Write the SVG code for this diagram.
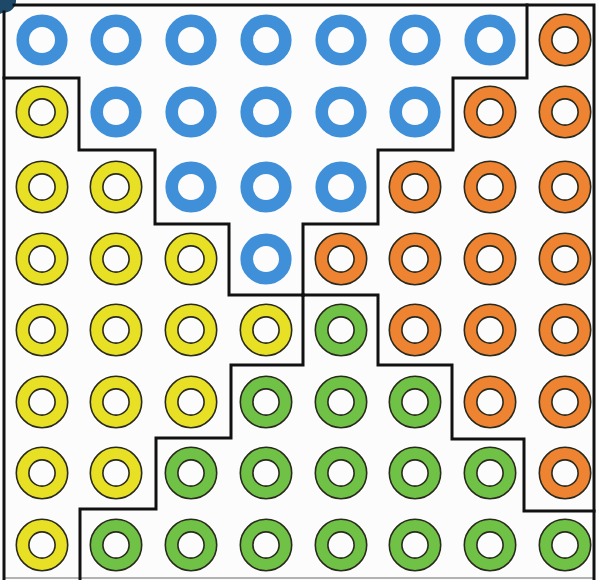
<svg xmlns="http://www.w3.org/2000/svg" xmlns:xlink="http://www.w3.org/1999/xlink" width="599" height="580" viewBox="0 0 599 580">
<style>
.o{fill:none;stroke:#2a2a1e;stroke-width:1.6}
.ln{fill:none;stroke:#111;stroke-width:3;stroke-linejoin:miter;stroke-linecap:square}
</style>
<defs>
<g id="rB"><circle r="19.3" fill="none" stroke="#3f90d8" stroke-width="12.6"/></g>
<g id="rY"><circle r="19.4" fill="none" stroke="#e8e024" stroke-width="12.6"/><circle r="25.7" class="o"/><circle r="13.1" class="o"/></g>
<g id="rO"><circle r="19.4" fill="none" stroke="#ee8332" stroke-width="12.6"/><circle r="25.7" class="o"/><circle r="13.1" class="o"/></g>
<g id="rG"><circle r="19.4" fill="none" stroke="#70c247" stroke-width="12.6"/><circle r="25.7" class="o"/><circle r="13.1" class="o"/></g>
</defs>
<rect width="599" height="580" fill="#fcfcfc"/>
<path d="M0,0 H16 A14,12 0 0 1 2,13 L0,14 Z" fill="#1e4868"/>
<g id="blue">
<use xlink:href="#rB" x="42" y="40"/><use xlink:href="#rB" x="116" y="40"/><use xlink:href="#rB" x="191" y="40"/><use xlink:href="#rB" x="266" y="40"/><use xlink:href="#rB" x="341" y="40"/><use xlink:href="#rB" x="415" y="40"/><use xlink:href="#rB" x="490" y="40"/>
<use xlink:href="#rB" x="116" y="112"/><use xlink:href="#rB" x="191" y="112"/><use xlink:href="#rB" x="266" y="112"/><use xlink:href="#rB" x="341" y="112"/><use xlink:href="#rB" x="415" y="112"/>
<use xlink:href="#rB" x="191" y="187"/><use xlink:href="#rB" x="266" y="187"/><use xlink:href="#rB" x="341" y="187"/>
<use xlink:href="#rB" x="266" y="259"/>
</g>
<g id="orange">
<use xlink:href="#rO" x="565" y="40"/>
<use xlink:href="#rO" x="490" y="112"/><use xlink:href="#rO" x="565" y="112"/>
<use xlink:href="#rO" x="415" y="187"/><use xlink:href="#rO" x="490" y="187"/><use xlink:href="#rO" x="565" y="187"/>
<use xlink:href="#rO" x="341" y="259"/><use xlink:href="#rO" x="415" y="259"/><use xlink:href="#rO" x="490" y="259"/><use xlink:href="#rO" x="565" y="259"/>
<use xlink:href="#rO" x="415" y="330"/><use xlink:href="#rO" x="490" y="330"/><use xlink:href="#rO" x="565" y="330"/>
<use xlink:href="#rO" x="490" y="402"/><use xlink:href="#rO" x="565" y="402"/>
<use xlink:href="#rO" x="565" y="473"/>
</g>
<g id="yellow">
<use xlink:href="#rY" x="42" y="112"/>
<use xlink:href="#rY" x="42" y="187"/><use xlink:href="#rY" x="116" y="187"/>
<use xlink:href="#rY" x="42" y="259"/><use xlink:href="#rY" x="116" y="259"/><use xlink:href="#rY" x="191" y="259"/>
<use xlink:href="#rY" x="42" y="330"/><use xlink:href="#rY" x="116" y="330"/><use xlink:href="#rY" x="191" y="330"/><use xlink:href="#rY" x="266" y="330"/>
<use xlink:href="#rY" x="42" y="402"/><use xlink:href="#rY" x="116" y="402"/><use xlink:href="#rY" x="191" y="402"/>
<use xlink:href="#rY" x="42" y="473"/><use xlink:href="#rY" x="116" y="473"/>
<use xlink:href="#rY" x="42" y="545"/>
</g>
<g id="green">
<use xlink:href="#rG" x="341" y="330"/>
<use xlink:href="#rG" x="266" y="402"/><use xlink:href="#rG" x="341" y="402"/><use xlink:href="#rG" x="415" y="402"/>
<use xlink:href="#rG" x="191" y="473"/><use xlink:href="#rG" x="266" y="473"/><use xlink:href="#rG" x="341" y="473"/><use xlink:href="#rG" x="415" y="473"/><use xlink:href="#rG" x="490" y="473"/>
<use xlink:href="#rG" x="116" y="545"/><use xlink:href="#rG" x="191" y="545"/><use xlink:href="#rG" x="266" y="545"/><use xlink:href="#rG" x="341" y="545"/><use xlink:href="#rG" x="415" y="545"/><use xlink:href="#rG" x="490" y="545"/><use xlink:href="#rG" x="565" y="545"/>
</g>
<g id="boundaries">
<line x1="4" y1="578" x2="594" y2="578" stroke="#9a9a9a" stroke-width="1.5"/>
<path class="ln" d="M14,5 H594 V580"/>
<path class="ln" d="M4,12 V580"/>
<path class="ln" d="M4,78 H79 V150 H155 V224 H229 V295 H303"/>
<path class="ln" d="M527,5 V78 H453 V150 H378 V224 H303 V295"/>
<path class="ln" d="M303,295 H378 V365 H452 V439 H524 V511 H594"/>
<path class="ln" d="M303,295 V365 H231 V438 H156 V509 H80 V580"/>
</g>
</svg>
